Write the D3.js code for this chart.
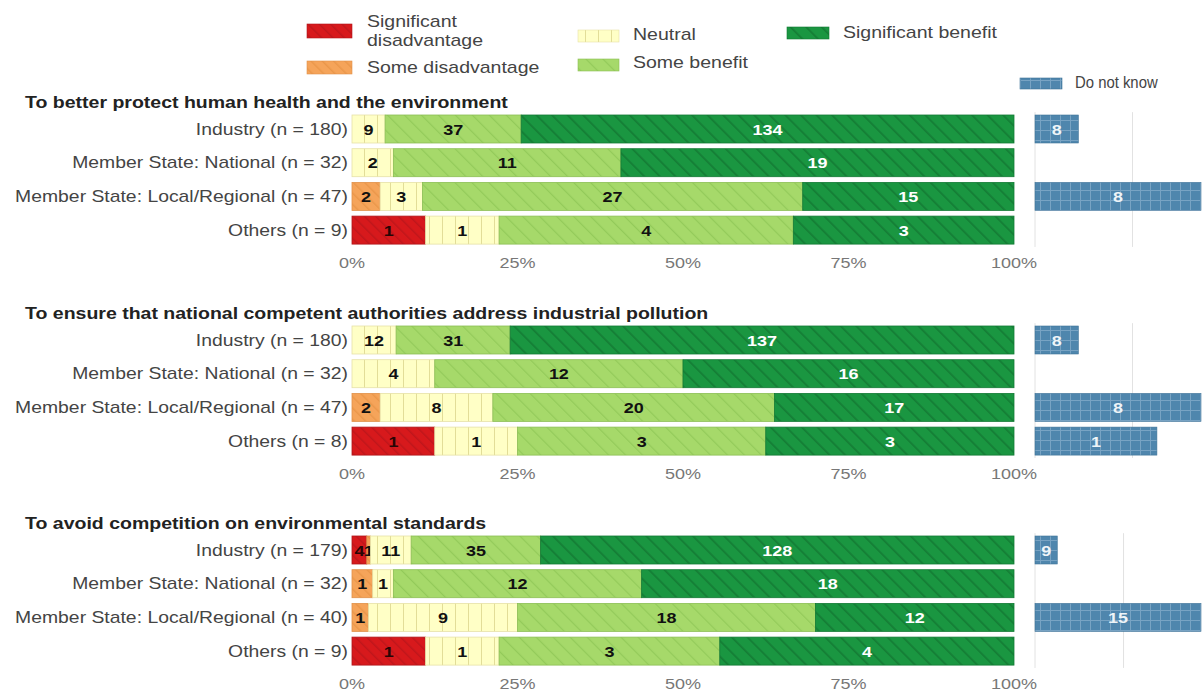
<!DOCTYPE html>
<html><head><meta charset="utf-8">
<script src="https://cdn.jsdelivr.net/npm/d3@7"></script>
<style>body{margin:0;background:#fff;} svg{display:block;font-family:"Liberation Sans",Arial,sans-serif;}</style>
</head><body><svg id="c" width="1203" height="693"></svg>
<script>
const categories = ["Significant disadvantage","Some disadvantage","Neutral","Some benefit","Significant benefit"];
const dnkLabel = "Do not know";
const groupNames = ["Industry","Member State: National","Member State: Local/Regional","Others"];
const panelTitles = [
  "To better protect human health and the environment",
  "To ensure that national competent authorities address industrial pollution",
  "To avoid competition on environmental standards"
];
// values per group: [sig dis, some dis, neutral, some benefit, sig benefit]
const panel1 = [[0,0,9,37,134],[0,0,2,11,19],[0,2,3,27,15],[1,0,1,4,3]];
const panel2 = [[0,0,12,31,137],[0,0,4,12,16],[0,2,8,20,17],[1,0,1,3,3]];
const panel3 = [[4,1,11,35,128],[0,1,1,12,18],[0,1,9,18,12],[1,0,1,3,4]];
const dnk1 = [8,0,8,0];
const dnk2 = [8,0,8,1];
const dnk3 = [9,0,15,0];
const dnkGrid = [[0,0.1],[0,0.1],[0,0.2]];
const tickValues = [0,0.25,0.5,0.75,1];

const panels = [panel1,panel2,panel3];
const dnks = [dnk1,dnk2,dnk3];

const fills = ["url(#p0)","url(#p1)","url(#p2)","url(#p3)","url(#p4)"];
const strokes = ["#b0161b","#e0914a","#e6e2a8","#8cbf55","#137a35"];
const textCols = ["#2a0505","#111","#111","#111","#fff"];
const SX = 1.24;

const svg = d3.select("#c");
const defs = svg.append("defs");
function stext(parent, x, y, str, opts){
  const t = parent.append("text").attr("transform",`translate(${x},${y}) scale(${opts.sx||SX},1)`)
    .attr("font-size",opts.size||16).attr("fill",opts.fill||"#444").text(str);
  if (opts.anchor) t.attr("text-anchor",opts.anchor);
  if (opts.bold) t.attr("font-weight","bold");
  return t;
}
function diag(id, bg, line, w, sp, angle, op){
  const p = defs.append("pattern").attr("id",id).attr("patternUnits","userSpaceOnUse")
    .attr("width",sp).attr("height",sp).attr("patternTransform",`rotate(${angle})`);
  p.append("rect").attr("width",sp).attr("height",sp).attr("fill",bg);
  p.append("line").attr("x1",0).attr("y1",0).attr("x2",0).attr("y2",sp).attr("stroke",line).attr("stroke-width",w).attr("opacity",op);
}
diag("p0","#d7191c","#a8141a",3,8,-45,0.5);
diag("p1","#f5a45a","#e08a3c",3,8,-45,0.5);
(function(){
  const sp=13;
  const p = defs.append("pattern").attr("id","p2").attr("patternUnits","userSpaceOnUse").attr("width",sp).attr("height",sp);
  p.append("rect").attr("width",sp).attr("height",sp).attr("fill","#ffffc6");
  p.append("line").attr("x1",0.5).attr("y1",0).attr("x2",0.5).attr("y2",sp).attr("stroke","#e2dd98").attr("stroke-width",1);
})();
diag("p3","#a6d96a","#8ec756",2.5,12,-45,0.8);
diag("p4","#1a9641","#137a34",3.5,11,-45,0.9);
(function(){
  const sp=10;
  const p = defs.append("pattern").attr("id","p5").attr("patternUnits","userSpaceOnUse").attr("width",sp).attr("height",sp);
  p.append("rect").attr("width",sp).attr("height",sp).attr("fill","#4f86ad");
  p.append("path").attr("d",`M0.5,0V${sp}M0,0.5H${sp}`).attr("stroke","#78a3c3").attr("stroke-width",1);
})();

const x = d3.scaleLinear().domain([0,1]).range([352,1014]);
const dnkRange = [1035,1201];
const panelTop = [115,326,536];
const rowStep = 33.7, barH = 28;

panels.forEach((data, pi) => {
  const top = panelTop[pi];
  const y = d3.scaleBand().domain(groupNames).range([top - (rowStep-barH)/2, top - (rowStep-barH)/2 + rowStep*4]).paddingInner((rowStep-barH)/rowStep).paddingOuter((rowStep-barH)/rowStep/2);
  const g = svg.append("g");
  stext(g, 25, top-7, panelTitles[pi], {bold:true, size:16, fill:"#222", sx:1.22});
  const ns = data.map(r => d3.sum(r));
  const dpct = dnks[pi].map((v,i)=> v/ns[i]);
  const xd = d3.scaleLinear().domain([0, d3.max(dpct)]).range(dnkRange);
  const yTop = y.range()[0], yBot = y.range()[1];
  g.selectAll(".dg").data(dnkGrid[pi]).join("line")
    .attr("x1",d=>xd(d)).attr("x2",d=>xd(d)).attr("y1",yTop).attr("y2",yBot)
    .attr("stroke","#e2e2e2").attr("stroke-width",1);
  data.forEach((row, ri) => {
    const n = ns[ri];
    const yy = y(groupNames[ri]);
    const cy = yy + y.bandwidth()/2 + 5.5;
    let cum = 0;
    row.forEach((v, ci) => {
      const x0 = x(cum/n), x1 = x((cum+v)/n);
      cum += v;
      if (v === 0) return;
      g.append("rect").attr("x",x0).attr("y",yy).attr("width",x1-x0).attr("height",y.bandwidth())
        .attr("fill",fills[ci]).attr("stroke",strokes[ci]).attr("stroke-width",0.8);
      stext(g, (x0+x1)/2, cy, v, {bold:true, size:15, fill:textCols[ci], anchor:"middle", sx:1.2});
    });
    stext(g, 348, cy, `${groupNames[ri]} (n = ${n})`, {size:16, fill:"#444", anchor:"end", sx:1.21});
    const dv = dnks[pi][ri];
    if (dv > 0) {
      const w = xd(dpct[ri]) - xd(0);
      g.append("rect").attr("x",xd(0)).attr("y",yy).attr("width",w).attr("height",y.bandwidth())
        .attr("fill","url(#p5)").attr("stroke","#3f7398").attr("stroke-width",0.6);
      stext(g, xd(0)+w/2, cy, dv, {bold:true, size:15, fill:"#eef4f8", anchor:"middle", sx:1.2});
    }
  });
  tickValues.forEach(t => {
    stext(g, x(t), yBot + 21.5, d3.format(".0%")(t), {size:15, fill:"#777", anchor:"middle", sx:1.2});
  });
});

// legend
const lg = svg.append("g");
const legendItems = [
  {lab:["Significant","disadvantage"], f:0, sx:307, sy:24, sw:45, sh:14, tx:367, ty:[27,46]},
  {lab:["Some disadvantage"], f:1, sx:307, sy:61, sw:45, sh:13, tx:367, ty:[73]},
  {lab:["Neutral"], f:2, sx:578, sy:30, sw:41, sh:12, tx:633, ty:[40]},
  {lab:["Some benefit"], f:3, sx:578, sy:59, sw:41, sh:12, tx:633, ty:[68]},
  {lab:["Significant benefit"], f:4, sx:787, sy:27, sw:42, sh:12, tx:843, ty:[38]},
  {lab:[dnkLabel], f:5, sx:1020, sy:78, sw:42, sh:11, tx:1075, ty:[88]}
];
legendItems.forEach(it => {
  lg.append("rect").attr("x",it.sx).attr("y",it.sy).attr("width",it.sw).attr("height",it.sh)
    .attr("fill",`url(#p${it.f})`).attr("stroke", it.f<5 ? strokes[it.f] : "#3f7398").attr("stroke-width",0.6);
  it.lab.forEach((l,i)=>{
    stext(lg, it.tx, it.ty[i], l, {size:16, fill:"#444", sx: it.f===5 ? 0.93 : 1.22});
  });
});
</script></body></html>
